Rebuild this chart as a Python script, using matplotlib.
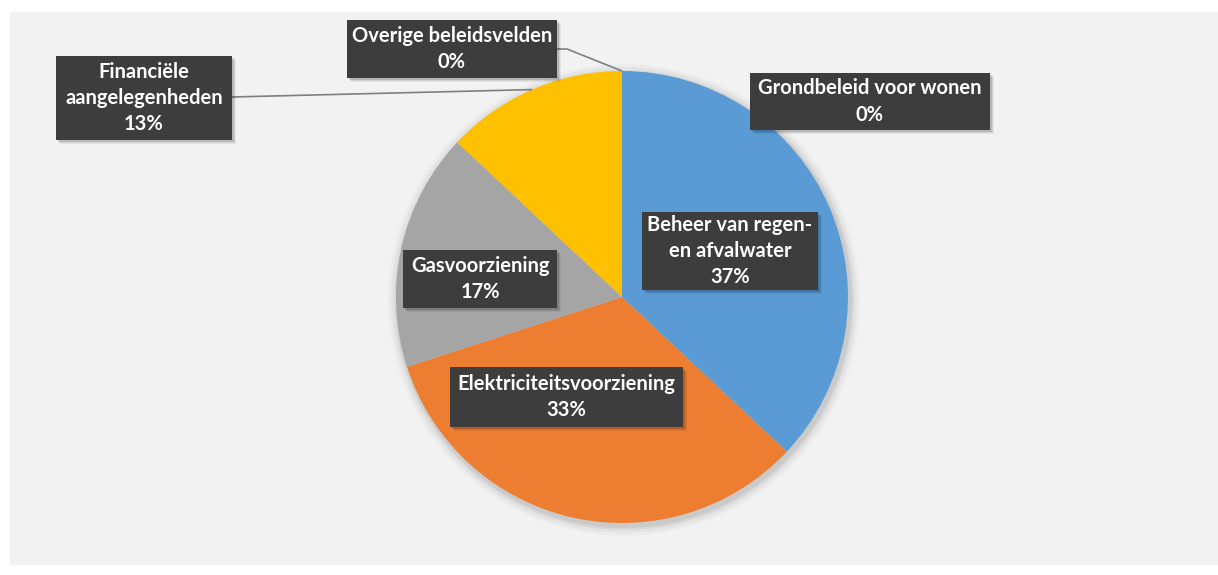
import matplotlib
matplotlib.use("Agg")
import matplotlib.pyplot as plt
from matplotlib.patches import Rectangle, Circle
import numpy as np

# ---- data ----
categories = ["Beheer van regen-\nen afvalwater", "Elektriciteitsvoorziening",
              "Gasvoorziening", "Financiële\naangelegenheden",
              "Overige beleidsvelden", "Grondbeleid voor wonen"]
values = [37, 33, 17, 13, 0, 0]
colors = ["#5B9BD5", "#ED7D31", "#A5A5A5", "#FFC000", "#70AD47", "#264478"]

W, H = 1218, 575
fig = plt.figure(figsize=(W / 100, H / 100), dpi=100)
fig.patch.set_facecolor("white")
ax = fig.add_axes([0, 0, 1, 1])
ax.set_xlim(0, W)
ax.set_ylim(0, H)
ax.set_aspect("equal")
ax.axis("off")

# chart area background
ax.add_patch(Rectangle((10, H - 565), W - 10, 553, facecolor="#F2F2F2",
                       edgecolor="none", zorder=0))

cx, cy, R = 622, H - 297, 226

# soft pie shadow
for d, a in [(10, 0.025), (7, 0.035), (4, 0.05), (2, 0.06)]:
    ax.add_patch(Circle((cx + 2, cy - 3), R + d, facecolor="#000000",
                        edgecolor="none", alpha=a, zorder=1))

wedges, _ = ax.pie(values, colors=colors, startangle=90, counterclock=False,
                   center=(cx, cy), radius=R, frame=True,
                   wedgeprops=dict(linewidth=0, zorder=2))
ax.set_xlim(0, W)
ax.set_ylim(0, H)
ax.axis("off")

total = sum(values)
labels = [f"{c}\n{round(v / total * 100)}%" for c, v in zip(categories, values)]

# label boxes (left, top, right, bottom in image pixels)
boxes = [
    (642, 212, 818, 290),
    (450, 367, 683, 427),
    (403, 250, 557, 308),
    (56, 56, 232, 140),
    (347, 20, 557, 78),
    (750, 73, 990, 130),
]

# leader lines for outside labels (index -> start point on box)
leaders = {3: [(232, 97)], 4: [(557, 49), (567, 49)]}

cum = np.cumsum([0] + values[:-1])
for i, (lab, (l, t, r, b)) in enumerate(zip(labels, boxes)):
    if i in leaders:
        mid = 90 - (cum[i] + values[i] / 2) / total * 360
        ex = cx + R * np.cos(np.radians(mid))
        ey = cy + R * np.sin(np.radians(mid))
        pts = [(x, H - y) for x, y in leaders[i]] + [(ex, ey)]
        xs, ys = zip(*pts)
        ax.plot(xs, ys, color="#7F7F7F", lw=1.2, zorder=3,
                solid_capstyle="butt")
    # shadow
    for d, a in [(4, 0.06), (3, 0.08), (2, 0.12)]:
        ax.add_patch(Rectangle((l + d, H - b - d), r - l, b - t,
                               facecolor="black", edgecolor="none",
                               alpha=a, zorder=4))
    ax.add_patch(Rectangle((l, H - b), r - l, b - t, facecolor="#3D3D3D",
                           edgecolor="none", zorder=5))
    ax.text((l + r) / 2, H - (t + b) / 2, lab, ha="center", va="center",
            color="white", fontsize=14.5, fontweight="bold", family="Lato",
            linespacing=1.4, zorder=6)

fig.savefig("out.png", dpi=100, facecolor=fig.get_facecolor())
